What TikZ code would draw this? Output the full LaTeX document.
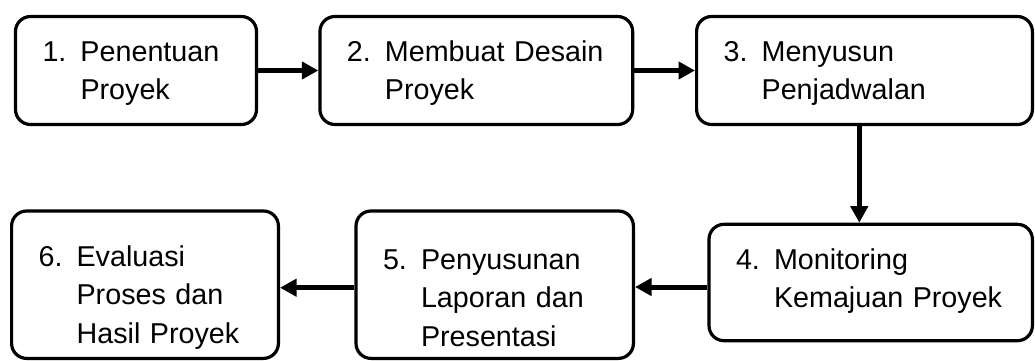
\documentclass[tikz,border=0pt]{standalone}
\usepackage{fontspec}
\setmainfont{Liberation Sans}
\usetikzlibrary{arrows.meta}

\newcommand{\nomor}[1]{\makebox[38pt][l]{#1}}
\newcommand{\lanjut}{\hspace*{38pt}}

\begin{document}
\begin{tikzpicture}[
		x=1pt, y=-1pt,
		font=\fontsize{28.7}{38.3}\selectfont,
		tahap/.style={draw, line width=3.2pt, rounded corners=15pt, align=left,
			inner xsep=27pt, inner ysep=0pt, text height=26pt},
		panah/.style={-{Triangle[length=16.5pt,width=17pt]}, line width=5pt}
	]
	\useasboundingbox (0,0) rectangle (1035,361);
	\node[tahap, minimum height=108pt, text width=187pt] (b1) at (136,70.5)
		{\nomor{1.}Penentuan\\\lanjut Proyek};
	\node[tahap, minimum height=108pt, text width=258.7pt] (b2) at (476.3,70.5)
		{\nomor{2.}Membuat Desain\\\lanjut Proyek};
	\node[tahap, minimum height=108pt, text width=281.8pt] (b3) at (864.5,70.5)
		{\nomor{3.}Menyusun\\\lanjut Penjadwalan};
	\node[tahap, minimum height=116.4pt, text width=269.4pt, text height=18pt] (b4) at (870.7,282.5)
		{\nomor{4.}Monitoring\\\lanjut Kemajuan Proyek};
	\node[tahap, minimum height=147.4pt, text width=223.4pt, text height=46.5pt] (b5) at (494.7,284.7)
		{\nomor{5.}Penyusunan\\\lanjut Laporan dan\\\lanjut Presentasi};
	\node[tahap, minimum height=147.4pt, text width=212.8pt, text height=46.5pt] (b6) at (145,284.7)
		{\nomor{6.}Evaluasi\\\lanjut Proses dan\\\lanjut Hasil Proyek};

	\draw[panah] (b1) -- (b2);
	\draw[panah] (b2) -- (b3);
	\draw[panah] ([xshift=-5.2pt]b3.south) coordinate (turun) -- (turun |- b4.north);
	\draw[panah] ([yshift=-4.5pt]b4.west) coordinate (kiri) -- (kiri -| b5.east);
	\draw[panah] ([yshift=-3pt]b5.west) coordinate (kiri2) -- (kiri2 -| b6.east);
\end{tikzpicture}
\end{document}
